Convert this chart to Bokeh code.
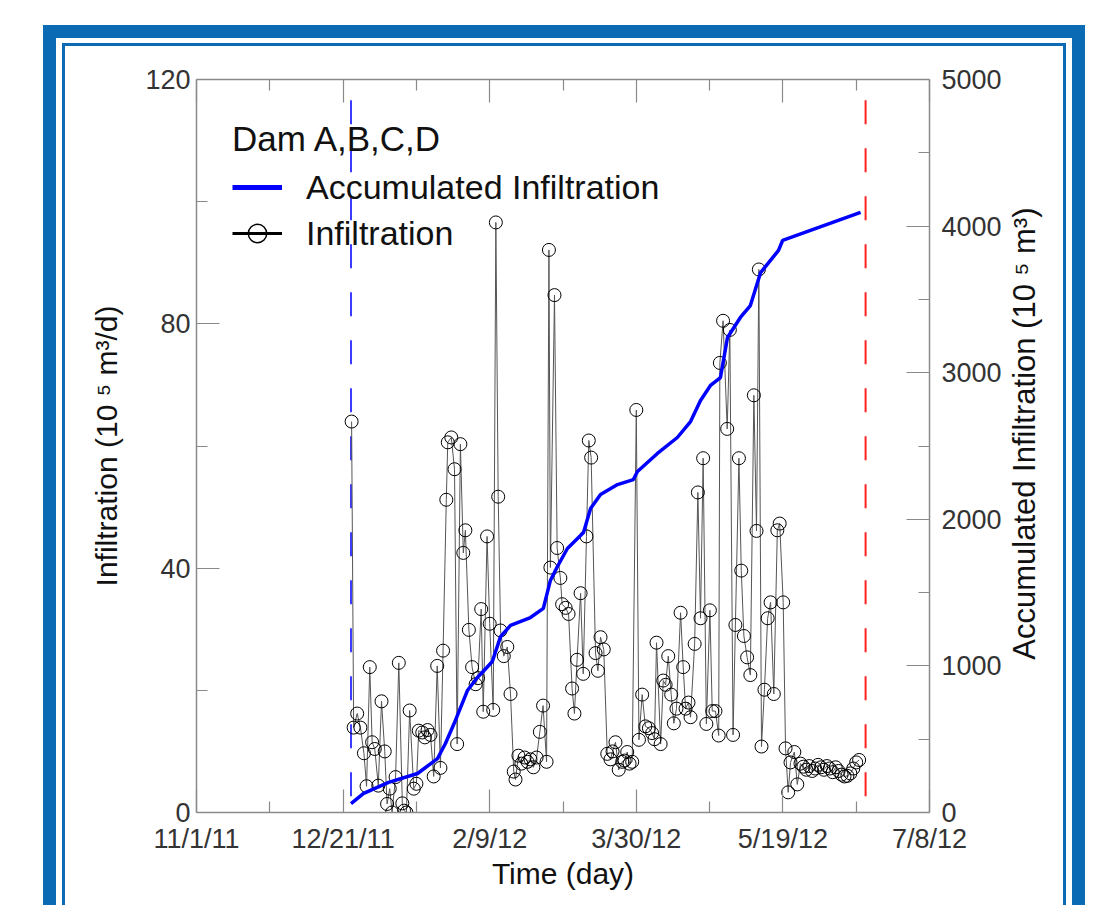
import math
from bokeh.plotting import figure
from bokeh.models import (LinearAxis, Range1d, FixedTicker, Legend, LegendItem, Label)
from bokeh.layouts import column, row
from bokeh.embed import file_html
from bokeh.resources import INLINE

# ---------------- data ----------------
# x axis: days since 11/1/11
tick_days = [0, 50, 100, 150, 200, 250]
tick_labels = ["11/1/11", "12/21/11", "2/9/12", "3/30/12", "5/19/12", "7/8/12"]
minor_days = [25, 75, 125, 175, 225]

left_ticks = [0, 40, 80, 120]
left_minor = [20, 60, 100]
right_ticks = [0, 1000, 2000, 3000, 4000, 5000]
right_minor = [500, 1500, 2500, 3500, 4500]

inf_day = [52.9, 53.6, 54.8, 55.9, 57.1, 58.0, 59.1, 59.9, 60.8, 62.0,
           63.1, 64.2, 65.0, 65.9, 66.7, 67.9, 69.0, 70.2, 70.8, 71.6,
           72.7, 74.1, 75.0, 75.8, 77.0, 77.9, 78.8, 79.8, 80.9, 82.1,
           83.2, 84.1, 85.2, 85.7, 86.9, 88.0, 88.9, 90.0, 91.0, 91.7,
           92.9, 94.0, 95.2, 96.0, 97.1, 97.8, 99.1, 100.0, 101.2, 102.1,
           102.9, 103.7, 104.8, 106.0, 107.1, 108.2, 108.8, 109.8, 110.8, 111.9,
           112.9, 113.9, 114.9, 116.0, 117.1, 118.2, 119.4, 120.2, 120.7, 122.1,
           123.0, 124.1, 124.7, 125.9, 126.9, 128.1, 128.9, 129.8, 131.0, 131.9,
           133.0, 133.8, 134.6, 136.1, 136.9, 137.8, 138.9, 140.1, 141.2, 141.9,
           142.9, 144.0, 145.2, 146.0, 146.9, 147.7, 148.6, 150.0, 150.9, 152.0,
           153.1, 154.3, 155.4, 156.2, 156.9, 158.3, 159.2, 160.0, 160.9, 161.9,
           162.8, 163.7, 165.1, 166.0, 166.8, 167.8, 168.5, 169.9, 171.0, 171.9,
           172.8, 173.9, 175.1, 175.9, 177.0, 178.1, 178.5, 179.6, 181.0, 181.9,
           183.0, 183.8, 185.0, 185.8, 186.7, 187.8, 188.9, 190.1, 191.0, 191.8,
           192.7, 193.7, 194.8, 195.8, 196.9, 198.1, 198.9, 200.1, 200.9, 201.8,
           202.6, 203.9, 204.9, 206, 207, 208, 209, 210, 211, 212,
           213, 214, 215, 216, 217, 218, 219, 220, 221, 222,
           223, 224, 225, 226]
inf_val = [64.0, 13.9, 16.2, 13.9, 9.7, 4.3, 23.8, 11.5, 10.4, 4.4,
           18.2, 10.0, 1.4, 3.9, 0.0, 5.8, 24.5, 1.5, 0.3, 0.0,
           16.7, 3.9, 4.7, 13.4, 13.1, 12.3, 13.5, 12.7, 5.9, 24.0,
           7.3, 26.5, 51.2, 60.6, 61.4, 56.2, 11.2, 60.3, 42.5, 46.2,
           29.9, 23.8, 21.0, 22.0, 33.3, 16.5, 45.2, 30.9, 16.8, 96.6,
           51.7, 29.8, 25.6, 27.1, 19.4, 6.7, 5.4, 9.3, 8.0, 9.0,
           8.3, 8.7, 7.4, 9.0, 13.2, 17.5, 8.3, 92.1, 40.1, 84.7,
           43.3, 38.4, 34.1, 33.5, 32.5, 20.3, 16.2, 25.0, 35.9, 22.7,
           45.2, 60.9, 58.1, 26.1, 23.2, 28.7, 26.7, 9.6, 8.7, 10.0,
           11.5, 7.0, 8.3, 8.5, 9.9, 8.0, 8.3, 65.9, 11.9, 19.3,
           14.1, 13.8, 13.0, 12.0, 27.8, 11.2, 21.6, 20.9, 25.6, 19.3,
           14.6, 17.0, 32.7, 23.8, 17.0, 18.0, 15.6, 27.6, 52.4, 31.8,
           58.0, 14.5, 33.1, 16.6, 16.6, 12.6, 73.6, 80.5, 62.8, 79.0,
           12.7, 30.7, 58.0, 39.6, 28.9, 25.4, 22.5, 68.3, 46.1, 88.9,
           10.8, 20.1, 31.8, 34.4, 19.4, 46.2, 47.3, 34.4, 10.5, 3.3,
           8.2, 9.9, 4.6, 8.0, 7.5, 7.0, 7.6, 6.8, 7.2, 7.8,
           7.4, 7.0, 7.6, 7.2, 6.6, 7.4, 6.8, 6.2, 5.9, 6.0,
           6.4, 7.2, 8.2, 8.6]

acc_day = [52.7, 57.0, 65.5, 75.4, 82.2, 84.9, 88.3, 92.4, 95.8, 99.1,
           100.9, 103.7, 107.1, 113.9, 118.3, 120.7, 123.1, 126.5, 132.0, 134.4,
           137.8, 143.6, 149.0, 150.4, 157.2, 164.0, 168.5, 171.9, 175.3, 178.7,
           181.1, 185.5, 188.9, 192.4, 198.5, 199.9, 226.5]
acc_val = [61, 130, 205, 266, 368, 471, 628, 832, 921, 991,
           1030, 1200, 1276, 1330, 1392, 1583, 1678, 1801, 1910, 2074,
           2169, 2237, 2271, 2326, 2449, 2558, 2667, 2810, 2913, 2967,
           3240, 3377, 3458, 3683, 3834, 3902, 4093]

start_day = 52.7   # blue dashed marker
end_day = 228.2    # red dashed marker
marker_top = 116.6

FONT = "Liberation Sans"
AXC = "#8a8a8a"
BLUE_FRAME = "#0a6ab4"

TOP_B, BOT_B, FRAME = 33, 93, 733
LEFT_B, RIGHT_B = 131, 78
SIDE_W = 56
TOTAL_H = TOP_B + FRAME + BOT_B

# ---------------- figure ----------------
p = figure(frame_width=FRAME, frame_height=FRAME,
           x_range=Range1d(0, 250), y_range=Range1d(0, 120),
           x_axis_location=None, y_axis_location=None,
           min_border_left=LEFT_B, min_border_right=RIGHT_B,
           min_border_top=TOP_B, min_border_bottom=BOT_B,
           output_backend="svg", toolbar_location=None)
p.extra_y_ranges = {"acc": Range1d(0, 5000)}
p.outline_line_color = None
p.background_fill_color = "white"
p.border_fill_color = "white"
for g in p.grid:
    g.visible = False


def style(ax, tick_in=23):
    ax.axis_line_color = AXC
    ax.axis_line_width = 1.5
    ax.major_tick_line_color = AXC
    ax.minor_tick_line_color = AXC
    ax.major_tick_line_width = 1.2
    ax.minor_tick_line_width = 1.2
    ax.major_tick_in = tick_in
    ax.major_tick_out = 0
    ax.minor_tick_in = 11
    ax.minor_tick_out = 0
    ax.major_label_text_font = FONT
    ax.major_label_text_font_size = "27px"
    ax.major_label_text_color = "#333333"
    ax.axis_label_text_font = FONT
    ax.axis_label_text_font_size = "30px"
    ax.axis_label_text_font_style = "normal"
    ax.axis_label_text_color = "#111111"


xt = FixedTicker(ticks=tick_days, minor_ticks=minor_days)
bottom = LinearAxis(ticker=xt, axis_label="Time (day)",
                    major_label_overrides={d: l for d, l in zip(tick_days, tick_labels)})
style(bottom)
bottom.major_label_standoff = 11
bottom.axis_label_standoff = 0
p.add_layout(bottom, "below")

top = LinearAxis(ticker=FixedTicker(ticks=tick_days, minor_ticks=minor_days),
                 major_label_overrides={d: "" for d in tick_days})
style(top)
top.major_label_text_font_size = "1px"
top.major_label_standoff = 0
p.add_layout(top, "above")

left = LinearAxis(ticker=FixedTicker(ticks=left_ticks, minor_ticks=left_minor),
                  axis_label="Infiltration (10 \u2075 m\u00b3/d)")
style(left)
left.major_label_standoff = 6
left.axis_label_standoff = 19
p.add_layout(left, "left")

right = LinearAxis(y_range_name="acc",
                   ticker=FixedTicker(ticks=right_ticks, minor_ticks=right_minor))
style(right)
right.major_label_standoff = 12
p.add_layout(right, "right")

# dashed markers
p.line([start_day, start_day], [marker_top, 0], line_color="#3c3cff",
       line_width=2, line_dash="24 24")
p.line([end_day, end_day], [marker_top, 0], line_color="#ff2020",
       line_width=2, line_dash="24 24")

# infiltration series
p.line(inf_day, inf_val, line_color="#555555", line_width=1)
p.scatter(inf_day, inf_val, marker="circle", size=13, fill_color=None,
          line_color="black", line_width=1)

# accumulated
p.line(acc_day, acc_val, y_range_name="acc", line_color="#0000ff", line_width=3.5)

# legend renderers (not drawn in plot area)
nan = float("nan")
lg_blue = p.line([nan], [nan], line_color="#0000ff", line_width=5)
lg_black = p.line([nan], [nan], line_color="black", line_width=3)
lg_circ = p.scatter([nan], [nan], marker="circle", size=20, fill_color=None,
                    line_color="black", line_width=1.5)

legend = Legend(items=[LegendItem(label="Accumulated Infiltration", renderers=[lg_blue]),
                       LegendItem(label="Infiltration", renderers=[lg_black, lg_circ])],
                title="Dam A,B,C,D", location=(36, 556))
legend.title_text_font = FONT
legend.title_text_font_size = "35px"
legend.title_text_font_style = "normal"
legend.title_text_color = "#111111"
legend.title_standoff = 5
legend.label_text_font = FONT
legend.label_text_font_size = "34px"
legend.label_text_color = "#111111"
legend.glyph_width = 50
legend.glyph_height = 46
legend.label_standoff = 24
legend.spacing = 0
legend.padding = 0
legend.margin = 0
legend.border_line_color = None
legend.background_fill_alpha = 0
p.add_layout(legend)

# narrow side strip carrying the right-axis title (reads bottom-to-top)
side = figure(width=SIDE_W, height=TOTAL_H,
              x_range=Range1d(0, SIDE_W), y_range=Range1d(0, TOTAL_H),
              x_axis_location=None, y_axis_location=None, min_border=0,
              output_backend="svg", toolbar_location=None)
side.outline_line_color = None
side.background_fill_color = "white"
side.border_fill_color = "white"
for g in side.grid:
    g.visible = False
side.add_layout(Label(x=17, y=TOTAL_H - 415, x_units="data", y_units="data",
                      text="Accumulated Infiltration (10 \u2075 m\u00b3)",
                      angle=math.pi / 2, text_align="center", text_baseline="middle",
                      text_font=FONT, text_font_size="31px", text_color="#111111"))

inner = column(row(p, side), styles={"border": "3px solid " + BLUE_FRAME, "border-bottom": "none"})
outer = column(inner, margin=(25, 0, 0, 43),
               styles={"border": "13px solid " + BLUE_FRAME, "border-bottom": "none",
                       "padding": "5px 6px 0px 6px", "background-color": "white"})

open("out.html", "w").write(file_html(outer, INLINE))
